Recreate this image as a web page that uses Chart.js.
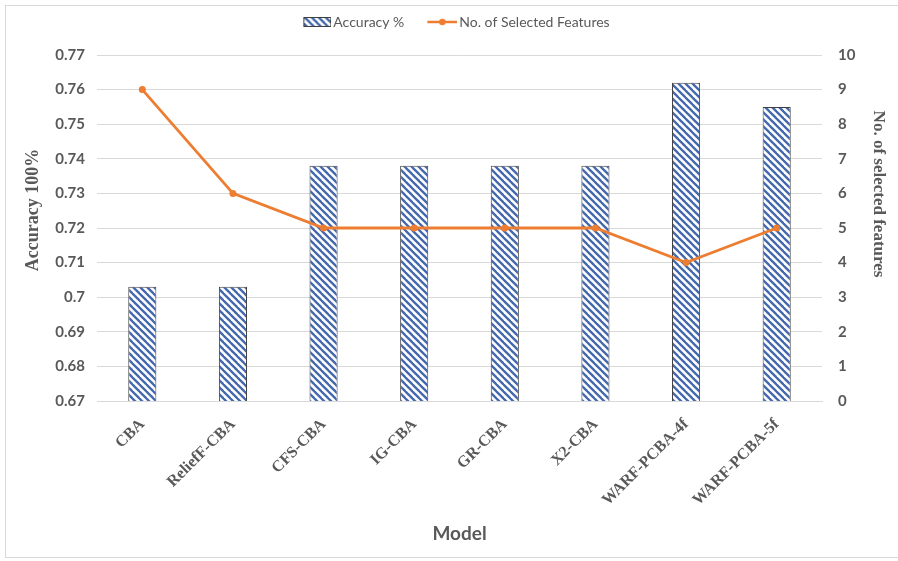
<!DOCTYPE html>
<html>
<head>
<meta charset="utf-8">
<script src="https://cdn.jsdelivr.net/npm/chart.js@4/dist/chart.umd.min.js"></script>
<style>
  html, body { margin: 0; padding: 0; background: #fff; }
  #wrap { position: relative; width: 898px; height: 561px; }
  #frame { position: absolute; left: 5px; top: 5px; width: 900px; height: 553px; border: 1px solid #d9d9d9; box-sizing: border-box; pointer-events: none; }
  canvas { position: absolute; left: 0; top: 0; }
</style>
</head>
<body>
<div id="wrap">
  <canvas id="c" width="898" height="561"></canvas>
  <div id="frame"></div>
</div>
<script>
// Models compared
const models = ["CBA", "ReliefF-CBA", "CFS-CBA", "IG-CBA", "GR-CBA", "X2-CBA", "WARF-PCBA-4f", "WARF-PCBA-5f"];
// Classification accuracy of each model
const accuracy = [0.703, 0.703, 0.738, 0.738, 0.738, 0.738, 0.762, 0.755];
// Number of features each model selected
const selectedFeatures = [9, 6, 5, 5, 5, 5, 4, 5];
// Axis ranges
const accuracyTicks = [0.67, 0.68, 0.69, 0.70, 0.71, 0.72, 0.73, 0.74, 0.75, 0.76, 0.77];
const featureTicks = [0, 1, 2, 3, 4, 5, 6, 7, 8, 9, 10];

const BLUE = "#4468ad";
const ORANGE = "#ed7d31";
const GREY = "#595959";

// Diagonal hatch fill for the accuracy bars
function makeHatch() {
  const s = 7;
  const t = document.createElement("canvas");
  t.width = s; t.height = s;
  const g = t.getContext("2d");
  g.fillStyle = "#fff";
  g.fillRect(0, 0, s, s);
  g.strokeStyle = BLUE;
  g.lineWidth = 2.3;
  for (let k = -1; k <= 1; k++) {
    g.beginPath();
    g.moveTo(k * s - 1, -1);
    g.lineTo(k * s + s + 1, s + 1);
    g.stroke();
  }
  return document.getElementById("c").getContext("2d").createPattern(t, "repeat");
}
const hatch = makeHatch();

// Legend swatches: 48px wide images, the visible mark sits in the right part
const SW = 48, SH = 10;
function barSwatch() {
  const c = document.createElement("canvas");
  c.width = SW; c.height = SH;
  const g = c.getContext("2d");
  const x0 = SW - 28;
  g.fillStyle = hatch;
  g.fillRect(x0, 0, 28, SH);
  g.strokeStyle = "#404040";
  g.lineWidth = 1;
  g.strokeRect(x0 + 0.5, 0.5, 27, SH - 1);
  return c;
}
function lineSwatch() {
  const c = document.createElement("canvas");
  c.width = SW; c.height = SH;
  const g = c.getContext("2d");
  const x0 = SW - 30;
  g.strokeStyle = ORANGE;
  g.lineWidth = 2.5;
  g.beginPath(); g.moveTo(x0, SH / 2); g.lineTo(SW, SH / 2); g.stroke();
  g.fillStyle = ORANGE;
  g.beginPath(); g.arc(x0 + 15, SH / 2, 3.2, 0, Math.PI * 2); g.fill();
  return c;
}
const swatches = [barSwatch(), lineSwatch()];

// Extra space under the legend
const legendSpacer = {
  id: "legendSpacer",
  beforeInit(chart) {
    const fit = chart.legend.fit;
    chart.legend.fit = function () {
      fit.bind(chart.legend)();
      this.height += 16;
    };
  }
};

const tickFont = { family: "Lato, 'Open Sans', sans-serif", size: 15, weight: "bold" };
const serifBold = { family: "'Liberation Serif', 'DejaVu Serif', serif", weight: "bold" };

new Chart(document.getElementById("c"), {
  data: {
    labels: models,
    datasets: [
      {
        type: "line",
        label: "No. of Selected Features",
        data: selectedFeatures,
        yAxisID: "yF",
        borderColor: ORANGE,
        backgroundColor: ORANGE,
        borderWidth: 2.8,
        pointRadius: 3.5,
        pointHoverRadius: 3.5,
        pointBackgroundColor: ORANGE,
        pointBorderWidth: 0,
        tension: 0,
        order: 0
      },
      {
        type: "bar",
        label: "Accuracy %",
        data: accuracy,
        yAxisID: "yA",
        backgroundColor: hatch,
        borderColor: "#404040",
        borderWidth: 1,
        barPercentage: 1,
        categoryPercentage: 0.31,
        order: 1
      }
    ]
  },
  plugins: [legendSpacer],
  options: {
    responsive: false,
    animation: false,
    events: [],
    layout: { padding: { top: 5, left: 0, right: 0, bottom: 0 } },
    plugins: {
      tooltip: { enabled: false },
      legend: {
        position: "top",
        labels: {
          usePointStyle: true,
          pointStyleWidth: 38,
          padding: 10,
          color: GREY,
          font: { family: "Lato, 'Open Sans', sans-serif", size: 14 },
          generateLabels() {
            return [
              { text: "Accuracy %", pointStyle: swatches[0], fontColor: GREY, hidden: false, datasetIndex: 1, lineWidth: 0, strokeStyle: "transparent" },
              { text: "No. of Selected Features", pointStyle: swatches[1], fontColor: GREY, hidden: false, datasetIndex: 0, lineWidth: 0, strokeStyle: "transparent" }
            ];
          }
        }
      }
    },
    scales: {
      x: {
        offset: true,
        grid: { display: false, drawTicks: false },
        border: { color: "#d9d9d9", width: 1 },
        ticks: {
          color: GREY,
          font: { ...serifBold, size: 16 },
          minRotation: 45,
          maxRotation: 45,
          padding: 14
        },
        title: {
          display: true,
          text: "Model",
          color: GREY,
          font: { family: "Lato, 'Open Sans', sans-serif", size: 19, weight: "bold" },
          padding: { top: 0, bottom: 16 }
        },
        afterFit(s) { s.height = 160; }
      },
      yA: {
        position: "left",
        min: accuracyTicks[0],
        max: accuracyTicks[accuracyTicks.length - 1],
        afterBuildTicks(s) { s.ticks = accuracyTicks.map(v => ({ value: v })); },
        grid: { color: "#d9d9d9", lineWidth: 1, drawTicks: false },
        border: { display: false },
        ticks: {
          color: GREY,
          font: tickFont,
          padding: 12,
          callback: v => String(Number(v.toFixed(2)))
        },
        title: {
          display: true,
          // leading spaces lift the title slightly above the axis middle
          text: "        Accuracy 100%",
          color: GREY,
          font: { ...serifBold, size: 18 },
          padding: { top: 23, bottom: 4 }
        },
        afterFit(s) { s.width = 97; }
      },
      yF: {
        position: "right",
        min: featureTicks[0],
        max: featureTicks[featureTicks.length - 1],
        afterBuildTicks(s) { s.ticks = featureTicks.map(v => ({ value: v })); },
        grid: { display: false, drawTicks: false },
        border: { display: false },
        ticks: { color: GREY, font: tickFont, padding: 16 },
        title: {
          display: true,
          // trailing spaces lift the title above the axis middle
          text: "No. of selected features                ",
          color: GREY,
          font: { ...serifBold, size: 17 },
          padding: { top: 9, bottom: 0 }
        },
        afterFit(s) { s.width = 76; }
      }
    }
  }
});
</script>
</body>
</html>
